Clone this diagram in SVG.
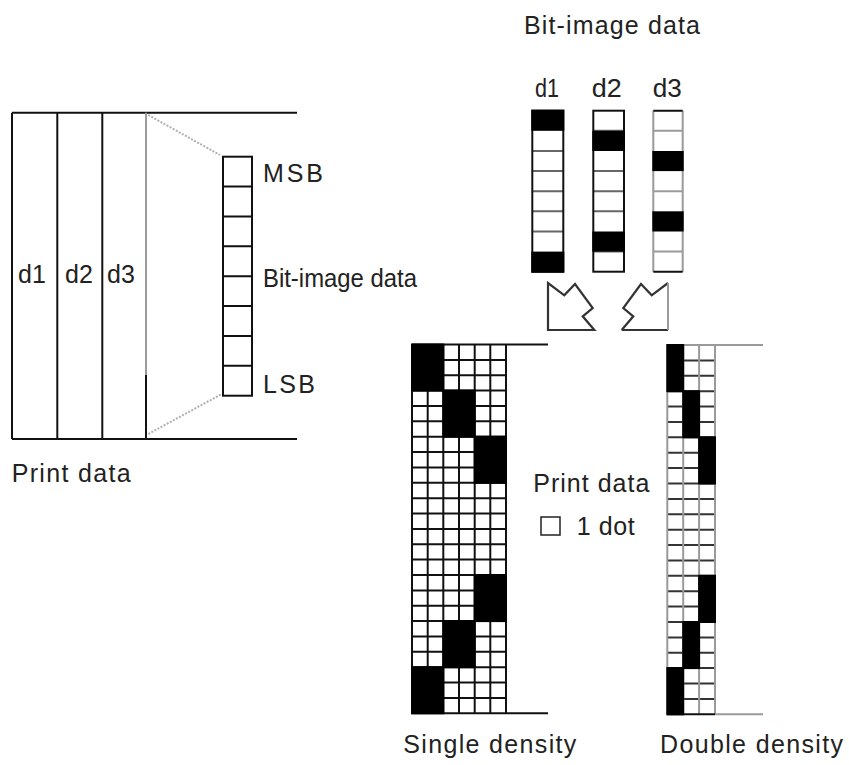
<svg xmlns="http://www.w3.org/2000/svg" width="849" height="765" viewBox="0 0 849 765">
<style>
  .t { font-family: "Liberation Sans", Arial, sans-serif; font-size: 25px; fill: #222; }
  .k { stroke: #111; stroke-width: 2; fill: none; }
  .g { stroke: #9a9a9a; stroke-width: 2; fill: none; }
  .m { stroke: #666; stroke-width: 2; fill: none; }
  .h { stroke: #333; stroke-width: 2; fill: none; }
  .dot { stroke: #b0b0b0; stroke-width: 2; stroke-dasharray: 2 1.5; fill: none; }
  .blk { fill: #000; }
  .arrow { stroke: #333; stroke-width: 2.2; fill: none; stroke-linejoin: miter; }
</style>
<rect width="849" height="765" fill="#fff"/>

<g id="print-data-left">
  <path class="k" d="M12,112.7 H297 M12,439 H297 M12,112.7 V439 M57.3,112.7 V439 M102.3,112.7 V439 M146,375 V439"/>
  <path class="g" d="M146,112.7 V375"/>
  <text class="t" x="18" y="283">d1</text>
  <text class="t" x="65" y="283">d2</text>
  <text class="t" x="107" y="283">d3</text>
  <text class="t" x="11.7" y="481.7" textLength="119" lengthAdjust="spacing">Print data</text>
</g>

<g id="bit-column-left">
  <rect class="k" x="223" y="156.7" width="29" height="239"/>
  <path class="k" d="M223,186.6 H252 M223,216.5 H252 M223,246.3 H252 M223,276.2 H252 M223,306.1 H252 M223,336 H252 M223,365.8 H252"/>
  <text class="t" x="263" y="181.7" textLength="60" lengthAdjust="spacing">MSB</text>
  <text class="t" x="263" y="286.7" textLength="154" lengthAdjust="spacingAndGlyphs">Bit-image data</text>
  <text class="t" x="263" y="393" textLength="52" lengthAdjust="spacing">LSB</text>
</g>

<g id="connectors">
  <path class="dot" d="M148.3,115 L220,155"/>
  <path class="dot" d="M148.3,434 L221.7,394"/>
  <path class="arrow" d="M594.3,330 H548 V283 L564.3,295.3 L575,284 L592.7,308 L582.7,316.3 Z"/>
  <path class="arrow" d="M621.7,330 H668 M668,283 L651.7,295.3 L641,284 L623.3,308 L633.3,316.3 L621.7,330"/>
  <path class="g" d="M668,283 V330"/>
</g>

<g id="bit-image-top">
  <text class="t" x="524" y="33.5" textLength="176" lengthAdjust="spacing">Bit-image data</text>
  <g id="col-d1">
    <path class="m" d="M532.3,151 H563.3 M532.3,171.1 H563.3 M532.3,191.2 H563.3 M532.3,211.3 H563.3 M532.3,231.5 H563.3"/>
    <rect class="k" x="532.3" y="110.7" width="31" height="161"/>
    <rect class="blk" x="531.3" y="109.7" width="33" height="21.1"/>
    <rect class="blk" x="531.3" y="251.6" width="33" height="21.1"/>
    <text class="t" x="535" y="97" textLength="24" lengthAdjust="spacingAndGlyphs">d1</text>
  </g>
  <g id="col-d2">
    <path class="m" d="M593.3,130.8 H624 M593.3,171.1 H624 M593.3,191.2 H624 M593.3,211.3 H624 M593.3,251.6 H624"/>
    <rect class="k" x="593.3" y="110.7" width="30.7" height="161"/>
    <rect class="blk" x="592.3" y="130.8" width="32.7" height="20.2"/>
    <rect class="blk" x="592.3" y="231.5" width="32.7" height="20.1"/>
    <text class="t" x="591.7" y="97" textLength="30" lengthAdjust="spacingAndGlyphs">d2</text>
  </g>
  <g id="col-d3">
    <path class="g" d="M653.3,130.8 H682.7 M653.3,191.2 H682.7 M653.3,251.6 H682.7 M653.3,110.7 V271.7 M682.7,110.7 V271.7"/>
    <path class="k" d="M653.3,110.7 H682.7 M653.3,271.7 H682.7"/>
    <rect class="blk" x="652.3" y="151" width="31.4" height="20.1"/>
    <rect class="blk" x="652.3" y="211.3" width="31.4" height="20.2"/>
    <text class="t" x="652.7" y="97" textLength="29" lengthAdjust="spacingAndGlyphs">d3</text>
  </g>
</g>

<g id="single-density">
  <path class="k" d="M412,344.5 V713.3 M427.7,344.5 V713.3 M443.3,344.5 V713.3 M459,344.5 V713.3 M474.7,344.5 V713.3 M490.3,344.5 V713.3 M506,344.5 V713.3"/>
  <path class="k" d="M412,344.5 H548 M412,359.9 H506 M412,375.2 H506 M412,390.6 H506 M412,406 H506 M412,421.3 H506 M412,436.7 H506 M412,452.1 H506 M412,467.4 H506 M412,482.8 H506 M412,498.2 H506 M412,513.5 H506 M412,528.9 H506 M412,544.3 H506 M412,559.6 H506 M412,575 H506 M412,590.4 H506 M412,605.7 H506 M412,621.1 H506 M412,636.5 H506 M412,651.8 H506 M412,667.2 H506 M412,682.6 H506 M412,697.9 H506 M412,713.3 H548"/>
  <rect class="blk" x="411" y="343.5" width="33.3" height="48.1"/>
  <rect class="blk" x="411" y="666.2" width="33.3" height="48.1"/>
  <rect class="blk" x="442.3" y="389.6" width="33.4" height="48.1"/>
  <rect class="blk" x="442.3" y="620.1" width="33.4" height="48.1"/>
  <rect class="blk" x="473.7" y="435.7" width="33.3" height="48.1"/>
  <rect class="blk" x="473.7" y="574" width="33.3" height="48.1"/>
  <text class="t" x="403.3" y="753.3" textLength="173" lengthAdjust="spacing">Single density</text>
</g>

<g id="legend">
  <text class="t" x="533.3" y="492.3" textLength="116" lengthAdjust="spacing">Print data</text>
  <rect x="541" y="517" width="19" height="18" fill="none" stroke="#222" stroke-width="1.5"/>
  <text class="t" x="576.7" y="535" textLength="58" lengthAdjust="spacing">1 dot</text>
</g>

<g id="double-density">
  <path class="h" d="M667.3,360.4 H715 M667.3,375.8 H715 M667.3,391.2 H715 M667.3,406.6 H715 M667.3,422 H715 M667.3,437.3 H715 M667.3,452.7 H715 M667.3,468.1 H715 M667.3,483.5 H715 M667.3,498.9 H715 M667.3,514.3 H715 M667.3,529.7 H715 M667.3,545 H715 M667.3,560.4 H715 M667.3,575.8 H715 M667.3,591.2 H715 M667.3,606.6 H715 M667.3,622 H715 M667.3,637.4 H715 M667.3,652.8 H715 M667.3,668.1 H715 M667.3,683.5 H715 M667.3,698.9 H715"/>
  <path class="g" d="M667.3,345 V714.3 M683.2,345 V714.3 M699.1,345 V714.3 M715,345 V714.3 M667.3,345 H763 M715,714.3 H763"/>
  <path class="k" d="M667.3,714.3 H715"/>
  <rect class="blk" x="666.3" y="344" width="17.9" height="48.2"/>
  <rect class="blk" x="666.3" y="667.1" width="17.9" height="48.2"/>
  <rect class="blk" x="682.2" y="390.2" width="17.9" height="48.1"/>
  <rect class="blk" x="682.2" y="621" width="17.9" height="48.1"/>
  <rect class="blk" x="698.1" y="436.3" width="17.9" height="48.2"/>
  <rect class="blk" x="698.1" y="574.8" width="17.9" height="48.2"/>
  <text class="t" x="660" y="753.3" textLength="183" lengthAdjust="spacing">Double density</text>
</g>
</svg>
